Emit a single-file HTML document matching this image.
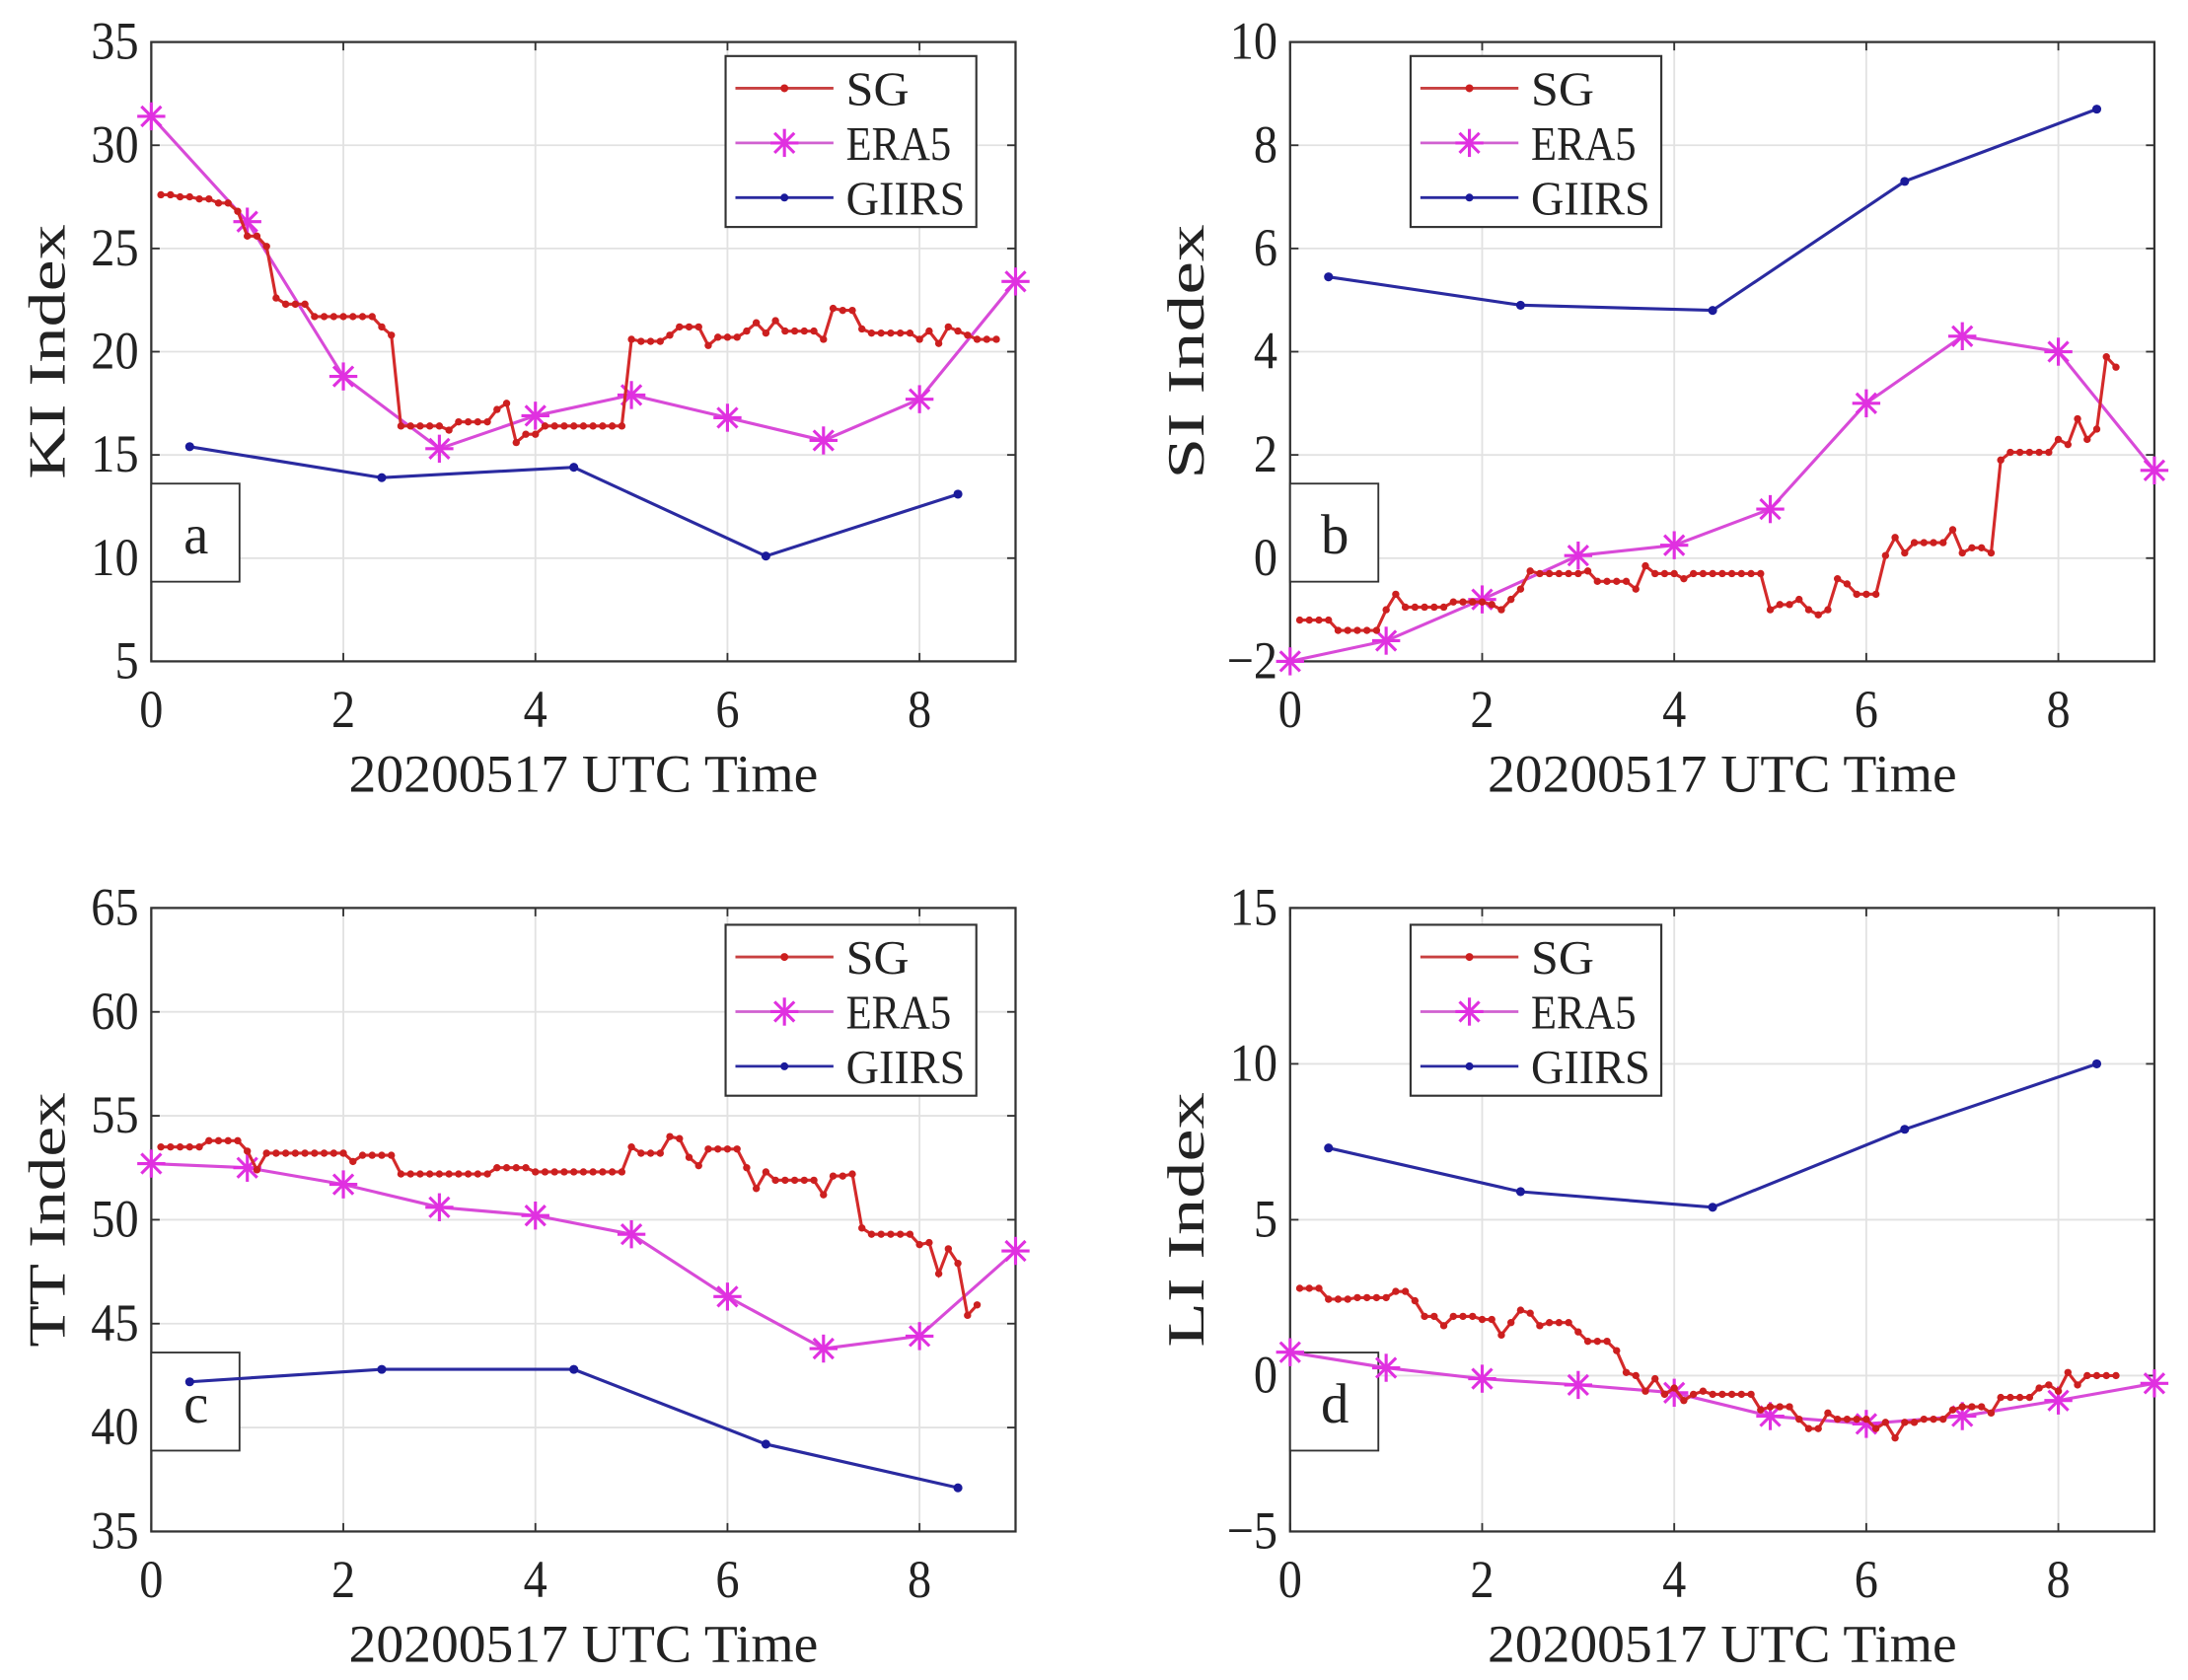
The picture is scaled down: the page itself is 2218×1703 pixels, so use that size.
<!DOCTYPE html>
<html><head><meta charset="utf-8">
<style>
html,body{margin:0;padding:0;background:#fff;}
svg{display:block;}
text{font-family:"Liberation Serif","Times New Roman",serif;fill:#222;}
</style></head>
<body>
<svg id="s" width="2218" height="1703" viewBox="0 0 1562 1199" preserveAspectRatio="none" xmlns="http://www.w3.org/2000/svg"></svg>
<script>
const S=document.getElementById('s');
let h='';
function step(spec){
  const pts=[];
  const end=spec[spec.length-1][0];
  for(let i=1;i<=Math.round(end*10);i++){
    const x=i/10; let v=spec[0][1];
    for(const [s,val] of spec){ if(s<=x+1e-6) v=val; }
    pts.push([x,v]);
  }
  return pts;
}
function panel(o){
  const {x0,x1,yt,yb,ymin,ymax,yticks,ylabel,letter,leg,sg,era,gi}=o;
  const X=v=>x0+(x1-x0)*v/9, Y=v=>yb-(yb-yt)*(v-ymin)/(ymax-ymin);
  for(let t=0;t<=8;t+=2){ h+=`<line x1="${X(t)}" y1="${yt}" x2="${X(t)}" y2="${yb}" stroke="#e2e2e2" stroke-width="1.3"/>`;
    h+=`<text x="${X(t)}" y="${yb+47}" font-size="34" text-anchor="middle" transform="translate(${X(t)},${yb+47}) scale(1,1.12) translate(${-X(t)},${-(yb+47)})">${t}</text>`;
    h+=`<line x1="${X(t)}" y1="${yb}" x2="${X(t)}" y2="${yb-6}" stroke="#333" stroke-width="1.3"/><line x1="${X(t)}" y1="${yt}" x2="${X(t)}" y2="${yt+6}" stroke="#333" stroke-width="1.3"/>`;}
  for(const t of yticks){ h+=`<line x1="${x0}" y1="${Y(t)}" x2="${x1}" y2="${Y(t)}" stroke="#e2e2e2" stroke-width="1.3"/>`;
    const ty=Y(t)+12;
    h+=`<text x="${x0-9}" y="${ty}" font-size="34" text-anchor="end" transform="translate(0,${ty}) scale(1,1.12) translate(0,${-ty})">${t<0?'\u2212'+(-t):t}</text>`;
    h+=`<line x1="${x0}" y1="${Y(t)}" x2="${x0+6}" y2="${Y(t)}" stroke="#333" stroke-width="1.3"/><line x1="${x1}" y1="${Y(t)}" x2="${x1-6}" y2="${Y(t)}" stroke="#333" stroke-width="1.3"/>`;}
  h+=`<rect x="${x0}" y="${yt}" width="${x1-x0}" height="${yb-yt}" fill="none" stroke="#333" stroke-width="1.6"/>`;
  h+=`<text x="${(x0+x1)/2}" y="${yb+93}" font-size="38" text-anchor="middle" textLength="335" lengthAdjust="spacingAndGlyphs">20200517 UTC Time</text>`;
  h+=`<text transform="translate(${x0-62},${(yt+yb)/2}) rotate(-90)" font-size="37" text-anchor="middle" textLength="182" lengthAdjust="spacingAndGlyphs">${ylabel}</text>`;
  const ly=yt+(yb-yt)*0.713;
  h+=`<rect x="${x0}" y="${ly}" width="63" height="70" fill="#fff" stroke="#333" stroke-width="1.3"/>`;
  h+=`<text x="${x0+32}" y="${ly+50}" font-size="40" text-anchor="middle">${letter}</text>`;
  const line=(pts,c,w)=>`<polyline points="${pts.map(p=>X(p[0]).toFixed(1)+','+Y(p[1]).toFixed(1)).join(' ')}" fill="none" stroke="${c}" stroke-width="${w}"/>`;
  const dot=(x,y,c,r)=>`<circle cx="${x}" cy="${y}" r="${r}" fill="${c}"/>`;
  const star=(x,y,c,s)=>{let r='';for(let a=0;a<4;a++){const t=a*Math.PI/4;r+=`<line x1="${x-s*Math.cos(t)}" y1="${y-s*Math.sin(t)}" x2="${x+s*Math.cos(t)}" y2="${y+s*Math.sin(t)}" stroke="${c}" stroke-width="2.2"/>`;}return r;};
  h+=line(gi,'#2a2aa0',2.2); gi.forEach(p=>h+=dot(X(p[0]),Y(p[1]),'#1a1a9a',3.2));
  const ep=era.map((v,i)=>[i,v]);
  h+=line(ep,'#d84ad8',2.2); ep.forEach(p=>h+=star(X(p[0]),Y(p[1]),'#e030e0',10));
  h+=line(sg,'#d42a2a',2.2); sg.forEach(p=>h+=dot(X(p[0]),Y(p[1]),'#cc1f1f',2.6));
  const [lx,ly2]=leg;
  h+=`<rect x="${lx}" y="${ly2}" width="179" height="122" fill="#fff" stroke="#333" stroke-width="1.5"/>`;
  const rows=[['SG','#c84040'],['ERA5','#d060d0'],['GIIRS','#2a2aa0']];
  rows.forEach((r,i)=>{const yy=ly2+23+i*39;
    h+=`<line x1="${lx+7}" y1="${yy}" x2="${lx+77}" y2="${yy}" stroke="${r[1]}" stroke-width="2"/>`;
    if(i==1)h+=star(lx+42,yy,'#e030e0',10);else h+=dot(lx+42,yy,i==0?'#cc1f1f':'#1a1a9a',2.8);
    h+=`<text x="${lx+86}" y="${yy+12}" font-size="34" textLength="${[45,75,85][i]}" lengthAdjust="spacingAndGlyphs">${r[0]}</text>`;});
}
const sgA=step([[0.1,27.6],[0.3,27.5],[0.5,27.4],[0.7,27.2],[0.9,26.8],[1.0,25.6],[1.2,25.1],[1.3,22.6],[1.4,22.3],[1.7,21.7],[2.4,21.2],[2.5,20.8],[2.6,16.4],[3.1,16.2],[3.2,16.6],[3.6,17.2],[3.7,17.5],[3.8,15.6],[3.9,16.0],[4.1,16.4],[5.0,20.6],[5.1,20.5],[5.4,20.8],[5.5,21.2],[5.8,20.3],[5.9,20.7],[6.2,21.0],[6.3,21.4],[6.4,20.9],[6.5,21.5],[6.6,21.0],[7.0,20.6],[7.1,22.1],[7.2,22.0],[7.4,21.1],[7.5,20.9],[8.0,20.6],[8.1,21.0],[8.2,20.4],[8.3,21.2],[8.4,21.0],[8.5,20.8],[8.6,20.6],[8.8,20.6]]);
const sgB=step([[0.1,-1.2],[0.5,-1.4],[1.0,-1.0],[1.1,-0.7],[1.2,-0.95],[1.7,-0.85],[2.1,-0.9],[2.2,-1.0],[2.3,-0.8],[2.4,-0.6],[2.5,-0.25],[2.6,-0.3],[3.1,-0.25],[3.2,-0.45],[3.6,-0.6],[3.7,-0.15],[3.8,-0.3],[4.1,-0.4],[4.2,-0.3],[5.0,-1.0],[5.1,-0.9],[5.3,-0.8],[5.4,-1.0],[5.5,-1.1],[5.6,-1.0],[5.7,-0.4],[5.8,-0.5],[5.9,-0.7],[6.2,0.05],[6.3,0.4],[6.4,0.1],[6.5,0.3],[6.9,0.55],[7.0,0.1],[7.1,0.2],[7.3,0.1],[7.4,1.9],[7.5,2.05],[8.0,2.3],[8.1,2.2],[8.2,2.7],[8.3,2.3],[8.4,2.5],[8.5,3.9],[8.6,3.7]]);
const sgC=step([[0.1,53.5],[0.6,53.8],[1.0,53.3],[1.1,52.4],[1.2,53.2],[2.1,52.8],[2.2,53.1],[2.6,52.2],[3.6,52.5],[4.0,52.3],[5.0,53.5],[5.1,53.2],[5.4,54.0],[5.5,53.9],[5.6,53.0],[5.7,52.6],[5.8,53.4],[6.2,52.5],[6.3,51.5],[6.4,52.3],[6.5,51.9],[7.0,51.2],[7.1,52.1],[7.3,52.2],[7.4,49.6],[7.5,49.3],[8.0,48.8],[8.1,48.9],[8.2,47.4],[8.3,48.6],[8.4,47.9],[8.5,45.4],[8.6,45.9]]);
const sgD=step([[0.1,2.8],[0.4,2.45],[0.7,2.5],[1.1,2.7],[1.3,2.4],[1.4,1.9],[1.6,1.6],[1.7,1.9],[2.0,1.8],[2.2,1.3],[2.3,1.7],[2.4,2.1],[2.5,2.0],[2.6,1.6],[2.7,1.7],[3.0,1.4],[3.1,1.1],[3.4,0.8],[3.5,0.1],[3.6,0.0],[3.7,-0.5],[3.8,-0.1],[3.9,-0.6],[4.0,-0.4],[4.1,-0.8],[4.2,-0.6],[4.3,-0.5],[4.4,-0.6],[4.9,-1.1],[5.0,-1.0],[5.3,-1.4],[5.4,-1.7],[5.6,-1.2],[5.7,-1.4],[6.1,-1.7],[6.2,-1.5],[6.3,-2.0],[6.4,-1.5],[6.6,-1.4],[6.9,-1.1],[7.0,-1.0],[7.3,-1.2],[7.4,-0.7],[7.8,-0.4],[7.9,-0.3],[8.0,-0.5],[8.1,0.1],[8.2,-0.3],[8.3,0.0],[8.6,0.0]]);
panel({x0:108,x1:725,yt:30,yb:472,ymin:5,ymax:35,yticks:[5,10,15,20,25,30,35],ylabel:'KI Index',letter:'a',leg:[518,40],
  sg:sgA,era:[31.4,26.3,18.8,15.3,16.9,17.9,16.8,15.7,17.7,23.4],gi:[[0.4,15.4],[2.4,13.9],[4.4,14.4],[6.4,10.1],[8.4,13.1]]});
panel({x0:921,x1:1538,yt:30,yb:472,ymin:-2,ymax:10,yticks:[-2,0,2,4,6,8,10],ylabel:'SI Index',letter:'b',leg:[1007,40],
  sg:sgB,era:[-2.0,-1.6,-0.8,0.05,0.25,0.95,3.0,4.3,4.0,1.7],gi:[[0.4,5.45],[2.4,4.9],[4.4,4.8],[6.4,7.3],[8.4,8.7]]});
panel({x0:108,x1:725,yt:648,yb:1093,ymin:35,ymax:65,yticks:[35,40,45,50,55,60,65],ylabel:'TT Index',letter:'c',leg:[518,660],
  sg:sgC,era:[52.7,52.5,51.7,50.6,50.2,49.3,46.3,43.8,44.4,48.5],gi:[[0.4,42.2],[2.4,42.8],[4.4,42.8],[6.4,39.2],[8.4,37.1]]});
panel({x0:921,x1:1538,yt:648,yb:1093,ymin:-5,ymax:15,yticks:[-5,0,5,10,15],ylabel:'LI Index',letter:'d',leg:[1007,660],
  sg:sgD,era:[0.75,0.25,-0.1,-0.3,-0.55,-1.3,-1.55,-1.3,-0.8,-0.25],gi:[[0.4,7.3],[2.4,5.9],[4.4,5.4],[6.4,7.9],[8.4,10.0]]});
S.innerHTML=h;
</script>
</body></html>
